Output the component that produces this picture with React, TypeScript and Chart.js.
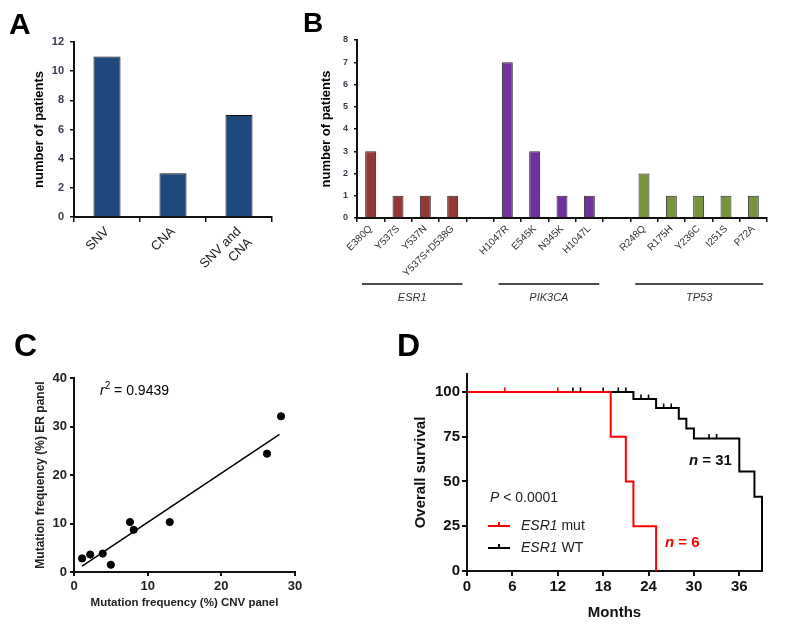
import React, { useEffect, useRef } from 'react';
import { Chart, registerables } from 'chart.js';
Chart.register(...registerables);

const FONT = "'Liberation Sans', Arial, Helvetica, sans-serif";

// ---------- Panel A ----------
const aCategories: (string | string[])[] = ['SNV', 'CNA', ['SNV and', 'CNA']];
const aValues = [11, 3, 7];
const aTicks = [0, 2, 4, 6, 8, 10, 12];

// ---------- Panel B ----------
const bCategories = ['E380Q', 'Y537S', 'Y537N', 'Y537S+D538G', '', 'H1047R', 'E545K', 'N345K', 'H1047L', '', 'R248Q', 'R175H', 'Y236C', 'I251S', 'P72A'];
const bValues = [3, 1, 1, 1, null, 7, 3, 1, 1, null, 2, 1, 1, 1, 1];
const bGroupOf = [0, 0, 0, 0, -1, 1, 1, 1, 1, -1, 2, 2, 2, 2, 2];
const bGroupColors = ['#953735', '#7030a0', '#77933c'];
const bGenes = ['ESR1', 'PIK3CA', 'TP53'];
const bGeneStart = [0, 5, 10];
const bGeneEnd = [3, 8, 14];
const bTicks = [0, 1, 2, 3, 4, 5, 6, 7, 8];

// ---------- Panel C ----------
const cCnvFreq = [1.1, 2.2, 3.9, 5.0, 7.6, 8.1, 13.0, 26.2, 28.1];
const cErFreq = [2.8, 3.6, 3.8, 1.5, 10.3, 8.7, 10.3, 24.4, 32.1];
const cFitX = [1.1, 27.9];
const cFitY = [1.2, 28.4];
const cXTicks = [0, 10, 20, 30];
const cYTicks = [0, 10, 20, 30, 40];

// ---------- Panel D ----------
const dMutMonths = [0, 19, 21, 22, 25];
const dMutSurv = [100, 75, 50, 25, 0];
const dMutCensorMonths = [5, 12];
const dMutCensorSurv = [100, 100];
const dWtMonths = [0, 22, 25, 28, 29, 30, 36, 38, 39];
const dWtSurv = [100, 96, 91, 85, 79.5, 74, 55.5, 41.5, 0];
const dWtCensorMonths = [14, 15, 18, 20, 21, 23, 24, 26, 27, 32, 33];
const dWtCensorSurv = [100, 100, 100, 100, 100, 96, 96, 91, 91, 74, 74];
const dXTicks = [0, 6, 12, 18, 24, 30, 36];
const dYTicks = [0, 25, 50, 75, 100];

const fixW = (w: number) => (s: any) => { s.width = w; };
const fixH = (h: number) => (s: any) => { s.height = h; };
const setTicks = (vals: number[]) => (s: any) => { s.ticks = vals.map((v) => ({ value: v })); };

type Run = { t: string; font: string; color?: string; dy?: number };
function drawRuns(ctx: CanvasRenderingContext2D, runs: Run[], x: number, y: number) {
  let cx = x;
  ctx.textAlign = 'left';
  ctx.textBaseline = 'middle';
  for (const r of runs) {
    ctx.font = r.font;
    ctx.fillStyle = r.color ?? '#000';
    ctx.fillText(r.t, cx, y + (r.dy || 0));
    cx += ctx.measureText(r.t).width;
  }
}

function ChartBox({ left, top, width, height, make }: { left: number; top: number; width: number; height: number; make: () => any }) {
  const ref = useRef<HTMLCanvasElement>(null);
  useEffect(() => {
    const chart = new Chart(ref.current!, make());
    return () => chart.destroy();
  }, []);
  return (
    <div style={{ position: 'absolute', left, top, width, height }}>
      <canvas ref={ref} width={width} height={height} style={{ width, height, display: 'block' }} />
    </div>
  );
}

const axisGrid = (len: number, w = 1.5) => ({ display: true, drawOnChartArea: false, drawTicks: true, tickLength: len, color: '#111', lineWidth: w });

function makeA() {
  return {
    type: 'bar',
    data: {
      labels: aCategories,
      datasets: [{ data: aValues, backgroundColor: '#1f497d', borderColor: '#111', borderWidth: 1, barPercentage: 0.41, categoryPercentage: 1 }],
    },
    options: {
      responsive: false,
      animation: false,
      layout: { padding: { left: 0, top: 42, right: 8, bottom: 0 } },
      plugins: { legend: { display: false }, tooltip: { enabled: false } },
      scales: {
        x: {
          afterFit: fixH(93),
          grid: { ...axisGrid(5), offset: true },
          border: { display: true, color: '#111', width: 2 },
          ticks: { minRotation: 45, maxRotation: 45, autoSkip: false, font: { family: FONT, size: 13 }, color: '#222', padding: 2 },
        },
        y: {
          min: 0,
          max: 12,
          afterFit: fixW(74),
          afterBuildTicks: setTicks(aTicks),
          grid: axisGrid(4),
          border: { display: true, color: '#111', width: 2 },
          ticks: { font: { family: FONT, size: 11, weight: 'bold' }, color: '#3a3a4e', padding: 6 },
          title: { display: true, text: 'number of patients', font: { family: FONT, size: 13, weight: 'bold' }, color: '#000', padding: { top: 32, bottom: 0 } },
        },
      },
    },
  };
}

const genePlugin = {
  id: 'genes',
  afterDraw(chart: any) {
    const ctx = chart.ctx as CanvasRenderingContext2D;
    const x = chart.scales.x;
    const w = x.getPixelForValue(1) - x.getPixelForValue(0);
    const yLine = chart.chartArea.bottom + 66;
    ctx.save();
    bGenes.forEach((g, i) => {
      const x0 = x.getPixelForValue(bGeneStart[i]) - 0.32 * w;
      const x1 = x.getPixelForValue(bGeneEnd[i]) + 0.36 * w;
      ctx.strokeStyle = '#111';
      ctx.lineWidth = 1.5;
      ctx.beginPath();
      ctx.moveTo(x0, yLine);
      ctx.lineTo(x1, yLine);
      ctx.stroke();
      ctx.font = `italic 11px ${FONT}`;
      ctx.fillStyle = '#333';
      ctx.textAlign = 'center';
      ctx.textBaseline = 'middle';
      ctx.fillText(g, (x0 + x1) / 2, yLine + 14);
    });
    ctx.restore();
  },
};

function makeB() {
  return {
    type: 'bar',
    data: {
      labels: bCategories,
      datasets: [{
        data: bValues,
        backgroundColor: bGroupOf.map((g) => (g >= 0 ? bGroupColors[g] : 'transparent')),
        borderColor: '#2a2a2a',
        borderWidth: 1,
        barPercentage: 0.4,
        categoryPercentage: 1,
      }],
    },
    plugins: [genePlugin],
    options: {
      responsive: false,
      animation: false,
      layout: { padding: { left: 0, top: 40, right: 33, bottom: 0 } },
      plugins: { legend: { display: false }, tooltip: { enabled: false } },
      scales: {
        x: {
          afterFit: fixH(92),
          grid: { ...axisGrid(4), offset: true },
          border: { display: true, color: '#111', width: 2 },
          ticks: { minRotation: 45, maxRotation: 45, autoSkip: false, font: { family: FONT, size: 10 }, color: '#333', padding: 1 },
        },
        y: {
          min: 0,
          max: 8,
          afterFit: fixW(77),
          afterBuildTicks: setTicks(bTicks),
          grid: axisGrid(3),
          border: { display: true, color: '#111', width: 2 },
          ticks: { font: { family: FONT, size: 9, weight: 'bold' }, color: '#3a3a4e', padding: 6 },
          title: { display: true, text: 'number of patients', font: { family: FONT, size: 13, weight: 'bold' }, color: '#000', padding: { top: 39, bottom: 0 } },
        },
      },
    },
  };
}

const r2Plugin = {
  id: 'r2',
  afterDraw(chart: any) {
    const ctx = chart.ctx as CanvasRenderingContext2D;
    const { left, top } = chart.chartArea;
    ctx.save();
    drawRuns(ctx, [
      { t: 'r', font: `italic 14px ${FONT}` },
      { t: '2', font: `10px ${FONT}`, dy: -5 },
      { t: ' = 0.9439', font: `14px ${FONT}` },
    ], left + 26, top + 13);
    ctx.restore();
  },
};

function makeC() {
  return {
    type: 'scatter',
    data: {
      datasets: [
        { data: cCnvFreq.map((x, i) => ({ x, y: cErFreq[i] })), backgroundColor: '#000', borderColor: '#000', pointRadius: 3.6, pointHoverRadius: 3.6 },
        { data: cFitX.map((x, i) => ({ x, y: cFitY[i] })), showLine: true, borderColor: '#000', borderWidth: 1.5, pointRadius: 0 },
      ],
    },
    plugins: [r2Plugin],
    options: {
      responsive: false,
      animation: false,
      layout: { padding: { left: 0, top: 58, right: 105, bottom: 0 } },
      plugins: { legend: { display: false }, tooltip: { enabled: false } },
      scales: {
        x: {
          type: 'linear',
          min: 0,
          max: 30,
          afterFit: fixH(61),
          afterBuildTicks: setTicks(cXTicks),
          grid: axisGrid(4, 2),
          border: { display: true, color: '#111', width: 2 },
          ticks: { font: { family: FONT, size: 13, weight: 'bold' }, color: '#222', padding: 3 },
          title: { display: true, text: 'Mutation frequency (%) CNV panel', font: { family: FONT, size: 11.5, weight: 'bold' }, color: '#222', padding: { top: 0, bottom: 23 } },
        },
        y: {
          min: 0,
          max: 40,
          afterFit: fixW(74),
          afterBuildTicks: setTicks(cYTicks),
          grid: axisGrid(4, 2),
          border: { display: true, color: '#111', width: 2 },
          ticks: { font: { family: FONT, size: 13, weight: 'bold' }, color: '#222', padding: 3 },
          title: { display: true, text: 'Mutation frequency (%) ER panel', font: { family: FONT, size: 12, weight: 'bold' }, color: '#222', padding: { top: 33, bottom: 0 } },
        },
      },
    },
  };
}

const kmPlugin = {
  id: 'km',
  afterDatasetsDraw(chart: any) {
    const ctx = chart.ctx as CanvasRenderingContext2D;
    ctx.save();
    chart.data.datasets.forEach((ds: any, i: number) => {
      if (!ds.censor) return;
      const meta = chart.getDatasetMeta(i);
      ctx.strokeStyle = ds.censorColor;
      ctx.lineWidth = 1.6;
      meta.data.forEach((p: any) => {
        ctx.beginPath();
        ctx.moveTo(p.x, p.y);
        ctx.lineTo(p.x, p.y - 4.5);
        ctx.stroke();
      });
    });
    ctx.restore();
  },
  afterDraw(chart: any) {
    const ctx = chart.ctx as CanvasRenderingContext2D;
    const { left, top } = chart.chartArea;
    ctx.save();
    drawRuns(ctx, [
      { t: 'P', font: `italic 14px ${FONT}`, color: '#222' },
      { t: ' < 0.0001', font: `14px ${FONT}`, color: '#222' },
    ], left + 23, top + 124);
    const legend = [
      { color: '#ff0000', suffix: ' mut', y: top + 152 },
      { color: '#000000', suffix: ' WT', y: top + 174 },
    ];
    legend.forEach((l) => {
      ctx.strokeStyle = l.color;
      ctx.lineWidth = 2;
      ctx.beginPath();
      ctx.moveTo(left + 21, l.y);
      ctx.lineTo(left + 43, l.y);
      ctx.moveTo(left + 32, l.y);
      ctx.lineTo(left + 32, l.y - 4);
      ctx.stroke();
      drawRuns(ctx, [
        { t: 'ESR1', font: `italic 14px ${FONT}`, color: '#222' },
        { t: l.suffix, font: `14px ${FONT}`, color: '#222' },
      ], left + 54, l.y);
    });
    drawRuns(ctx, [
      { t: 'n', font: `italic bold 15px ${FONT}`, color: '#111' },
      { t: ' = 31', font: `bold 15px ${FONT}`, color: '#111' },
    ], left + 222, top + 87);
    drawRuns(ctx, [
      { t: 'n', font: `italic bold 15px ${FONT}`, color: '#ff0000' },
      { t: ' = 6', font: `bold 15px ${FONT}`, color: '#ff0000' },
    ], left + 198, top + 169);
    ctx.restore();
  },
};

function makeD() {
  return {
    type: 'line',
    data: {
      datasets: [
        { data: dMutMonths.map((x, i) => ({ x, y: dMutSurv[i] })), stepped: 'before', borderColor: '#ff0000', borderWidth: 2, pointRadius: 0, fill: false, clip: 4 },
        { data: dWtMonths.map((x, i) => ({ x, y: dWtSurv[i] })), stepped: 'before', borderColor: '#000000', borderWidth: 2, pointRadius: 0, fill: false, clip: 4 },
        { data: dMutCensorMonths.map((x, i) => ({ x, y: dMutCensorSurv[i] })), showLine: false, pointRadius: 0, censor: true, censorColor: '#ff0000' },
        { data: dWtCensorMonths.map((x, i) => ({ x, y: dWtCensorSurv[i] })), showLine: false, pointRadius: 0, censor: true, censorColor: '#000000' },
      ],
    },
    plugins: [kmPlugin],
    options: {
      responsive: false,
      animation: false,
      layout: { padding: { left: 0, top: 54, right: 38, bottom: 0 } },
      plugins: { legend: { display: false }, tooltip: { enabled: false } },
      scales: {
        x: {
          type: 'linear',
          min: 0,
          max: 39,
          afterFit: fixH(62),
          afterBuildTicks: setTicks(dXTicks),
          grid: axisGrid(5, 2),
          border: { display: true, color: '#111', width: 2 },
          ticks: { font: { family: FONT, size: 15, weight: 'bold' }, color: '#111', padding: 2 },
          title: { display: true, text: 'Months', font: { family: FONT, size: 15, weight: 'bold' }, color: '#111', padding: { top: 0, bottom: 11 } },
        },
        y: {
          min: 0,
          max: 110,
          afterFit: fixW(67),
          afterBuildTicks: setTicks(dYTicks),
          grid: axisGrid(5, 2),
          border: { display: true, color: '#111', width: 2 },
          ticks: { font: { family: FONT, size: 15, weight: 'bold' }, color: '#111', padding: 2 },
          title: { display: true, text: 'Overall survival', font: { family: FONT, size: 15, weight: 'bold' }, color: '#111', padding: { top: 12, bottom: 0 } },
        },
      },
    },
  };
}

const letter = (t: string, left: number, top: number, size: number) => (
  <div style={{ position: 'absolute', left, top, fontFamily: FONT, fontWeight: 'bold', fontSize: size, lineHeight: 1, color: '#000' }}>{t}</div>
);

export default function App() {
  return (
    <div style={{ position: 'fixed', left: 0, top: 0, width: 800, height: 633, background: '#fff', overflow: 'hidden' }}>
      <ChartBox left={0} top={0} width={280} height={310} make={makeA} />
      <ChartBox left={280} top={0} width={520} height={310} make={makeB} />
      <ChartBox left={0} top={320} width={400} height={313} make={makeC} />
      <ChartBox left={400} top={320} width={400} height={313} make={makeD} />
      {letter('A', 9, 9, 30)}
      {letter('B', 303, 9, 28)}
      {letter('C', 14, 329, 32)}
      {letter('D', 397, 329, 32)}
    </div>
  );
}
